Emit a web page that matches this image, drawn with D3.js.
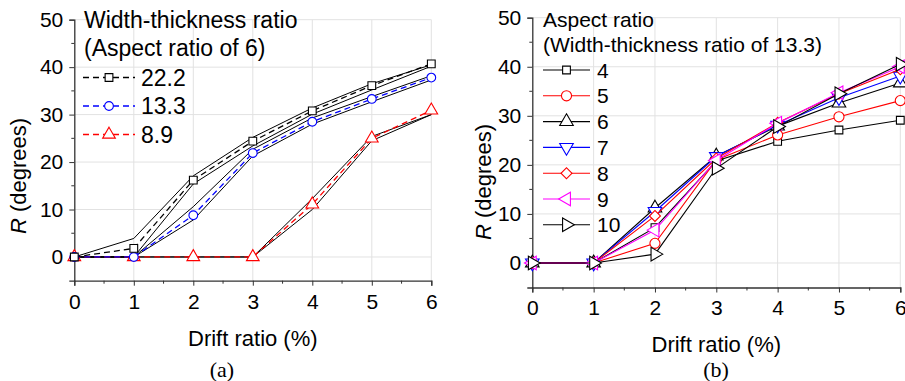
<!DOCTYPE html>
<html>
<head>
<meta charset="utf-8">
<script src="https://cdn.jsdelivr.net/npm/d3@7"></script>
<style>
  html, body { margin: 0; padding: 0; background: #fff; }
  svg { display: block; }
  text { font-family: "Liberation Sans", Arial, sans-serif; fill: #000; }
</style>
</head>
<body>
<svg id="chart" width="905" height="381"></svg>
<script>
// Drift ratio (%) steps shared by both panels
const drift = [0, 1, 2, 3, 4, 5, 6];
const xTicks = [0, 1, 2, 3, 4, 5, 6];
const yTicks = [0, 10, 20, 30, 40, 50];

// Panel (a): width-thickness ratio, aspect ratio 6
const wtLabels = ["22.2", "13.3", "8.9"];
const wt222 = [0, 1.8, 16.2, 24.4, 30.8, 36.1, 40.7];
const wt133 = [0, 0, 8.8, 21.9, 28.5, 33.3, 37.8];
const wt89  = [0, 0, 0, 0, 11.1, 25.0, 30.9];
// envelope lines (upper / lower) drawn around each test curve
const wt222Upper = [0, 3.9, 17.1, 25.2, 31.4, 36.5, 40.5];
const wt222Lower = [0, 0, 15.4, 23.4, 30.1, 35.2, 40.2];
const wt133Upper = [0, 0, 10.6, 22.7, 29.3, 33.8, 38.2];
const wt133Lower = [0, 0, 7.8, 21.3, 28.0, 32.7, 37.3];
const wt89Upper  = [0, 0, 0, 0, 12.3, 25.4, 30.0];
const wt89Lower  = [0, 0, 0, 0, 10.0, 24.5, 30.0];

// Panel (b): aspect ratio, width-thickness ratio 13.3
const arLabels = ["4", "5", "6", "7", "8", "9", "10"];
const ar4  = [0, 0, 7.2, 20.8, 24.8, 27.1, 29.1];
const ar5  = [0, 0, 4.0, 21.0, 26.1, 29.8, 33.1];
const ar6  = [0, 0, 11.2, 21.8, 27.9, 32.6, 36.7];
const ar7  = [0, 0, 10.5, 21.7, 28.1, 33.7, 38.1];
const ar8  = [0, 0, 9.6, 21.3, 28.6, 34.5, 39.5];
const ar9  = [0, 0, 6.7, 20.9, 28.5, 34.7, 40.0];
const ar10 = [0, 0, 1.8, 19.3, 27.8, 34.5, 40.5];

const svg = d3.select("#chart");

function symbolFor(kind) {
  return {
    square: d3.symbolSquare,
    circle: d3.symbolCircle,
    triUp: d3.symbolTriangle,
    triDown: d3.symbolTriangle,
    diamond: d3.symbolSquare,
    triLeft: d3.symbolTriangle,
    triRight: d3.symbolTriangle
  }[kind];
}
function rotFor(kind) {
  return { triDown: 180, diamond: 45, triLeft: -90, triRight: 90 }[kind] || 0;
}
function drawMarker(g, kind, cx, cy, size, color) {
  g.append("path")
    .attr("d", d3.symbol().type(symbolFor(kind)).size(size)())
    .attr("transform", `translate(${cx},${cy}) rotate(${rotFor(kind)})`)
    .attr("fill", "#fff")
    .attr("stroke", color)
    .attr("stroke-width", 1.1);
}

function panel(opts) {
  const x = d3.scaleLinear().domain([0, 6]).range(opts.xr);
  const y = d3.scaleLinear().domain([-5, 50]).range(opts.yr);
  const g = svg.append("g");

  // grid
  g.append("g").selectAll("line").data(yTicks).join("line")
    .attr("x1", x(0)).attr("x2", x(6))
    .attr("y1", d => y(d)).attr("y2", d => y(d))
    .attr("stroke", "#e2e2e2").attr("stroke-width", 1);
  g.append("g").selectAll("line").data(xTicks.slice(1)).join("line")
    .attr("x1", d => x(d)).attr("x2", d => x(d))
    .attr("y1", y(-5)).attr("y2", y(50))
    .attr("stroke", "#e2e2e2").attr("stroke-width", 1);

  // y axis
  const yAx = g.append("g").attr("transform", `translate(${x(0)},0)`)
    .call(d3.axisLeft(y).tickValues(yTicks).tickSize(5).tickPadding(6).tickFormat(d3.format("d")));
  yAx.append("g").selectAll("line").data([5, 15, 25, 35, 45]).join("line")
    .attr("x1", 0).attr("x2", -3).attr("y1", d => y(d)).attr("y2", d => y(d))
    .attr("stroke", "#333");
  // x axis
  const xAx = g.append("g").attr("transform", `translate(0,${y(-5)})`)
    .call(d3.axisBottom(x).tickValues(xTicks).tickSize(5).tickPadding(8).tickFormat(d3.format("d")));
  xAx.append("g").selectAll("line").data(d3.range(0.5, 6, 1)).join("line")
    .attr("x1", d => x(d)).attr("x2", d => x(d)).attr("y1", 0).attr("y2", 3)
    .attr("stroke", "#333");
  [yAx, xAx].forEach(a => {
    a.select(".domain").attr("stroke", "#333").attr("stroke-width", 1.3);
    a.selectAll(".tick line").attr("stroke", "#333");
    a.selectAll("text").style("font-size", "21px").style("font-family", "Liberation Sans, Arial, sans-serif").attr("fill", "#000");
  });

  // axis titles
  g.append("text").attr("x", (x(0) + x(6)) / 2).attr("y", opts.xtY)
    .attr("text-anchor", "middle").style("font-size", "22px").text("Drift ratio (%)");
  const yt = g.append("text")
    .attr("transform", `translate(${opts.ytX},${opts.ytY}) rotate(-90)`)
    .attr("text-anchor", "middle").style("font-size", "22px");
  yt.append("tspan").style("font-style", "italic").text("R");
  yt.append("tspan").text(" (degrees)");
  g.append("text").attr("x", opts.capX).attr("y", 377)
    .attr("text-anchor", "middle")
    .style("font-family", "Liberation Serif, Times New Roman, serif")
    .style("font-size", "22px").text(opts.caption);

  return { g, x, y };
}

// ---------- panel (a) ----------
const A = panel({ xr: [74.3, 431.3], yr: [280.7, 19.7], xtY: 346, ytX: 26, ytY: 176, capX: 222, caption: "(a)" });
const lineA = d3.line().x((d, i) => A.x(drift[i])).y(d => A.y(d));

[wt222Upper, wt222Lower, wt133Upper, wt133Lower, wt89Upper, wt89Lower].forEach(s => {
  A.g.append("path").attr("d", lineA(s)).attr("fill", "none")
    .attr("stroke", "#000").attr("stroke-width", 1);
});

const seriesA = [
  { label: wtLabels[0], vals: wt222, color: "#000", kind: "square" },
  { label: wtLabels[1], vals: wt133, color: "#0000ff", kind: "circle" },
  { label: wtLabels[2], vals: wt89, color: "#ff0000", kind: "triUp" }
];
seriesA.slice().reverse().forEach(s => {
  A.g.append("path").attr("d", lineA(s.vals)).attr("fill", "none")
    .attr("stroke", s.color).attr("stroke-width", 1.3).attr("stroke-dasharray", "6,4");
});
seriesA.slice().reverse().forEach(s => {
  s.vals.forEach((v, i) => drawMarker(A.g, s.kind, A.x(drift[i]), A.y(v), s.kind === "triUp" ? 70 : 60, s.color));
});

// legend (a)
const legA = A.g.append("g");
legA.append("text").attr("x", 84).attr("y", 28).style("font-size", "23px").text("Width-thickness ratio");
legA.append("text").attr("x", 84).attr("y", 56).style("font-size", "23px").text("(Aspect ratio of 6)");
seriesA.forEach((s, i) => {
  const cy = 77.5 + i * 28.5;
  legA.append("line").attr("x1", 83).attr("x2", 135).attr("y1", cy).attr("y2", cy)
    .attr("stroke", s.color).attr("stroke-width", 1.3).attr("stroke-dasharray", "6,4");
  drawMarker(legA, s.kind, 109, cy, s.kind === "triUp" ? 70 : 60, s.color);
  legA.append("text").attr("x", 141).attr("y", cy + 8).style("font-size", "23px").text(s.label);
});

// ---------- panel (b) ----------
const B = panel({ xr: [532.3, 900.3], yr: [287.5, 17.7], xtY: 352, ytX: 491, ytY: 182, capX: 716, caption: "(b)" });
const lineB = d3.line().x((d, i) => B.x(drift[i])).y(d => B.y(d));

const seriesB = [
  { label: arLabels[0], vals: ar4, color: "#000", kind: "square", size: 60 },
  { label: arLabels[1], vals: ar5, color: "#ff0000", kind: "circle", size: 80 },
  { label: arLabels[2], vals: ar6, color: "#000", kind: "triUp", size: 80 },
  { label: arLabels[3], vals: ar7, color: "#0000ff", kind: "triDown", size: 80 },
  { label: arLabels[4], vals: ar8, color: "#ff0000", kind: "diamond", size: 60 },
  { label: arLabels[5], vals: ar9, color: "#ff00ff", kind: "triLeft", size: 80 },
  { label: arLabels[6], vals: ar10, color: "#000", kind: "triRight", size: 80 }
];
seriesB.forEach(s => {
  B.g.append("path").attr("d", lineB(s.vals)).attr("fill", "none")
    .attr("stroke", s.color).attr("stroke-width", 1.1);
  s.vals.forEach((v, i) => drawMarker(B.g, s.kind, B.x(drift[i]), B.y(v), s.size, s.color));
});

// legend (b)
const legB = B.g.append("g");
legB.append("text").attr("x", 543).attr("y", 27).style("font-size", "21px").text("Aspect ratio");
legB.append("text").attr("x", 543).attr("y", 52).style("font-size", "21px").text("(Width-thickness ratio of 13.3)");
seriesB.forEach((s, i) => {
  const cy = 70 + i * 25.8;
  legB.append("line").attr("x1", 543).attr("x2", 590).attr("y1", cy).attr("y2", cy)
    .attr("stroke", s.color).attr("stroke-width", 1.1);
  drawMarker(legB, s.kind, 566.5, cy, s.size, s.color);
  legB.append("text").attr("x", 597).attr("y", cy + 7.5).style("font-size", "21px").text(s.label);
});
</script>
</body>
</html>
